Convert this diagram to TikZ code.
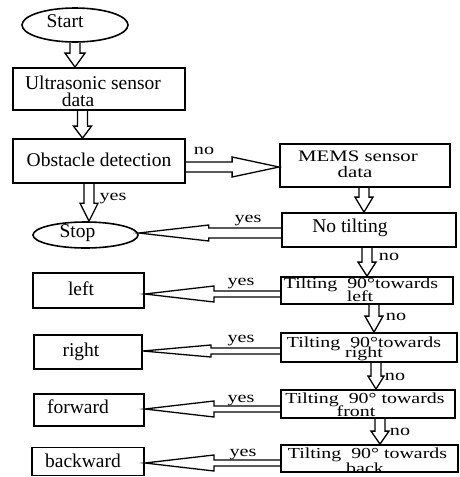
\documentclass[tikz,border=0pt]{standalone}
\usepackage{fontspec}
\setmainfont{Liberation Serif}
\newfontfamily\wfont[FakeStretch=1.3]{Liberation Serif}
\usetikzlibrary{calc,shapes.geometric}
\tikzset{
  boxline/.style={draw=black, line width=1.8pt, inner sep=0pt},
  rbox/.style={boxline, rectangle},
  oval/.style={boxline, ellipse, line width=1.6pt},
  txt/.style={inner sep=0pt, anchor=base, font=\fontsize{19.5}{19.5}\selectfont},
  wtxt/.style={inner sep=0pt, anchor=base, font=\wfont\fontsize{15.3}{15.3}\selectfont},
  mtxt/.style={inner sep=0pt, anchor=base, font=\wfont\fontsize{16}{16}\selectfont},
  lbl/.style={inner sep=0pt, anchor=base, font=\wfont\fontsize{15.5}{15.5}\selectfont},
  arrowline/.style={draw=black, line width=1.3pt},
}
\newcommand\hollowarrow[5]{%
  \path (#1) coordinate (hA) (#2) coordinate (hB);
  \path ($(hB)!#5!(hA)$) coordinate (hH);
  \draw[arrowline] ($(hA)!#3!90:(hB)$) -- ($(hH)!#3!90:(hB)$) -- ($(hH)!#4!90:(hB)$) -- (hB)
     -- ($(hH)!#4!-90:(hB)$) -- ($(hH)!#3!-90:(hB)$) -- ($(hA)!#3!-90:(hB)$);
}
\begin{document}
\begin{tikzpicture}[x=1pt,y=-1pt]
\fill[white] (0,0) rectangle (459,477);
\useasboundingbox (0,0) rectangle (459,477);

% shapes
\node[oval, minimum width=106pt, minimum height=34pt] (start) at (75,25) {};
\node[rbox, minimum width=172pt, minimum height=42pt] (ultra) at (99,89) {};
\node[rbox, minimum width=172pt, minimum height=44pt] (obst) at (99,161) {};
\node[oval, minimum width=105pt, minimum height=26pt] (stop) at (85.5,235) {};
\node[rbox, minimum width=170pt, minimum height=43pt] (mems) at (365,165.5) {};
\node[rbox, minimum width=174pt, minimum height=34pt] (notilt) at (369,230) {};
\node[rbox, minimum width=172pt, minimum height=27pt] (tl) at (367,290.5) {};
\node[rbox, minimum width=176pt, minimum height=29pt] (tr) at (369,347.5) {};
\node[rbox, minimum width=174pt, minimum height=28pt] (tf) at (368,404) {};
\node[rbox, minimum width=177pt, minimum height=27pt] (tb) at (369.5,458.5) {};
\node[rbox, minimum width=111pt, minimum height=35pt] (lft) at (88.5,290.5) {};
\node[rbox, minimum width=108pt, minimum height=34pt] (rgt) at (88,352) {};
\node[rbox, minimum width=110pt, minimum height=32pt] (fwd) at (89,410) {};
\node[rbox, minimum width=112pt, minimum height=28pt] (bwd) at (88,461.5) {};

% texts
\node[txt] (tstart) at (65,27.5) {Start};
\node[txt] (tultra1) at (93,89) {Ultrasonic sensor};
\node[txt] (tultra2) at (78,106) {data};
\node[txt] (tobst) at (99,166) {Obstacle detection};
\node[txt] (tstop) at (77.5,237) {Stop};
\node[mtxt] (tmems1) at (358,161) {MEMS sensor};
\node[mtxt] (tmems2) at (355,177) {data};
\node[txt] (tnot) at (350,232) {No tilting};
\node[txt] (tlft) at (81,295) {left};
\node[txt] (trgt) at (81,356) {right};
\node[txt] (tfwd) at (78,413) {forward};
\node[txt] (tbwd) at (83,467) {backward};

\begin{scope}
\clip (tl.south west) rectangle (tl.north east);
\node[wtxt] (ttl1) at (361,288) {Tilting\ \ 90°towards};
\node[wtxt] (ttl2) at (360,301) {left};
\end{scope}
\begin{scope}
\clip (tr.south west) rectangle (tr.north east);
\node[wtxt] (ttr1) at (364,347) {Tilting\ \ 90°towards};
\node[wtxt] (ttr2) at (364,357) {right};
\end{scope}
\begin{scope}
\clip (tf.south west) rectangle (tf.north east);
\node[wtxt] (ttf1) at (365,403) {Tilting\ \ 90° towards};
\node[wtxt] (ttf2) at (356,416) {front};
\end{scope}
\begin{scope}
\clip (tb.south west) rectangle (tb.north east);
\node[wtxt] (ttb1) at (367.5,458) {Tilting\ \ 90° towards};
\node[wtxt] (ttb2) at (365,473) {back};
\end{scope}

% labels
\node[lbl] (no1) at (204,154) {no};
\node[lbl] (yes1) at (113,200) {yes};
\node[lbl] (yes2) at (248,222) {yes};
\node[lbl] (no2) at (389,260) {no};
\node[lbl] (no3) at (396,320) {no};
\node[lbl] (no4) at (395,380) {no};
\node[lbl] (no5) at (400,435) {no};
\node[lbl] (yes3) at (241,285) {yes};
\node[lbl] (yes4) at (241,342) {yes};
\node[lbl] (yes5) at (241,402) {yes};
\node[lbl] (yes6) at (243,456) {yes};

% arrows
\hollowarrow{start.south}{start.south |- ultra.north}{5pt}{10pt}{14pt}
\hollowarrow{[xshift=-16.5pt]ultra.south}{[xshift=-16.5pt]ultra.south |- obst.north}{5pt}{9pt}{12pt}
\hollowarrow{[xshift=-10pt]obst.south}{[xshift=-10pt]obst.south |- stop.north}{5pt}{9pt}{18pt}
\hollowarrow{[yshift=-6pt]obst.east}{[yshift=-6pt]obst.east -| mems.west}{5pt}{10pt}{47pt}
\hollowarrow{[xshift=-1pt]mems.south}{[xshift=-1pt]mems.south |- notilt.north}{5pt}{9pt}{15pt}
\hollowarrow{[yshift=-3pt]notilt.west}{[yshift=-3pt]notilt.west -| stop.east}{5pt}{8pt}{70pt}
\hollowarrow{[xshift=-2pt]notilt.south}{[xshift=-2pt]notilt.south |- tl.north}{5pt}{9pt}{14pt}
\hollowarrow{[xshift=7pt]tl.south}{[xshift=7pt]tl.south |- tr.north}{5pt}{9pt}{16pt}
\hollowarrow{[xshift=7pt]tr.south}{[xshift=7pt]tr.south |- tf.north}{5pt}{8pt}{13pt}
\hollowarrow{[xshift=12pt]tf.south}{[xshift=12pt]tf.south |- tb.north}{5pt}{9pt}{13pt}
\hollowarrow{[yshift=-3.5pt]tl.west}{[yshift=-3.5pt]tl.west -| lft.east}{3pt}{8pt}{69pt}
\hollowarrow{[yshift=-3.5pt]tr.west}{[yshift=-3.5pt]tr.west -| rgt.east}{3pt}{6pt}{68pt}
\hollowarrow{[yshift=-5pt]tf.west}{[yshift=-5pt]tf.west -| fwd.east}{3pt}{8pt}{69pt}
\hollowarrow{[yshift=-4.5pt]tb.west}{[yshift=-4.5pt]tb.west -| bwd.east}{3pt}{8pt}{69pt}
\end{tikzpicture}
\end{document}
